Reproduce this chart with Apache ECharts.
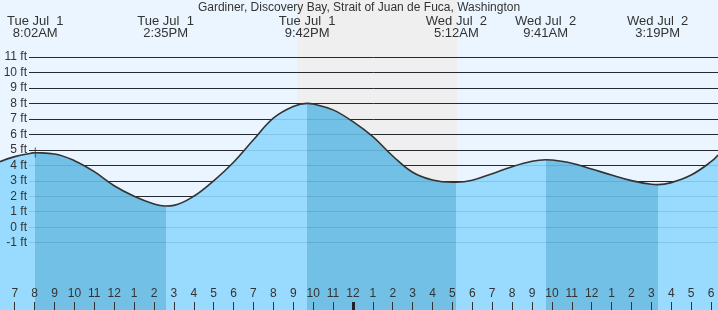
<!DOCTYPE html>
<html><head><meta charset="utf-8">
<script src="https://cdn.jsdelivr.net/npm/echarts@6/dist/echarts.min.js"></script>
<style>html,body{margin:0;padding:0;background:#eaf5ff}#c{width:718px;height:310px}</style>
</head><body><div id="c"></div>
<script>
const chartTitle = 'Gardiner, Discovery Bay, Strait of Juan de Fuca, Washington';
// hours since Jul 1 00:00
const tideHours = [6.26, 7, 8, 8.033, 9, 10, 11, 12, 13, 14, 14.583, 15, 16, 17, 18, 19, 20, 21, 21.7, 22, 23, 24, 25, 26, 27, 28, 29, 29.2, 30, 31, 32, 33, 33.683, 34, 35, 36, 37, 38, 39, 39.317, 40, 41, 42, 42.35];
const tideFeet  = [4.23, 4.56, 4.81, 4.82, 4.73, 4.30, 3.59, 2.68, 2.0, 1.50, 1.37, 1.41, 2.0, 3.0, 4.2, 5.65, 7.05, 7.8, 8.0, 7.96, 7.58, 6.82, 5.85, 4.6, 3.55, 3.05, 2.9, 2.9, 3.03, 3.46, 3.91, 4.26, 4.36, 4.34, 4.13, 3.76, 3.37, 3.01, 2.77, 2.75, 2.88, 3.37, 4.23, 4.67];
const extremeHours  = [8.033, 14.583, 21.7, 29.2, 33.683, 39.317];
const extremeLabels = ['Tue Jul  1\n8:02AM', 'Tue Jul  1\n2:35PM', 'Tue Jul  1\n9:42PM', 'Wed Jul  2\n5:12AM', 'Wed Jul  2\n9:41AM', 'Wed Jul  2\n3:19PM'];
const ebbRanges  = [[8.033, 14.583], [21.7, 29.2], [33.683, 39.317]];
const nightRange = [21.19, 29.23];
const hourTicks = [];
for (let h = 7; h <= 42; h++) hourTicks.push(h);
const midnightTicks = [24];
const ftTicks = [11, 10, 9, 8, 7, 6, 5, 4, 3, 2, 1, 0, -1];
const currentPoint = [8.033, 4.82];
const xRange = [6.26, 42.35];
const yRange = [-5.35, 14.68];

const FONT = 'Liberation Sans, Arial, sans-serif';
const TXT = '#333';
const LIGHT = '#98dbfe';
const DARK = '#72c0e5';

const tideData = tideHours.map((h, i) => [h, tideFeet[i]]);
const chart = echarts.init(document.getElementById('c'), null, {renderer: 'canvas'});
const lineMarks = ftTicks.map(v => ({yAxis: v}));

chart.setOption({
  animation: false,
  backgroundColor: '#eaf5ff',
  title: {text: chartTitle, left: 'center', top: 2, padding: 0, z: 10,
    textStyle: {fontFamily: FONT, fontSize: 12, fontWeight: 'normal', color: TXT}},
  grid: [
    {left: 0, right: 0, top: 0, bottom: 0},
    {left: 29, right: 0, top: 0, bottom: 0},
    {left: 0, right: 0, top: 0, bottom: 0}
  ],
  xAxis: [
    {gridIndex: 0, type: 'value', min: xRange[0], max: xRange[1], position: 'bottom', z: 10,
      axisLine: {show: false, onZero: false}, splitLine: {show: false},
      axisTick: {show: true, inside: true, length: 8, customValues: hourTicks, lineStyle: {color: TXT, width: 1}},
      axisLabel: {show: true, inside: true, margin: 10, customValues: hourTicks,
        formatter: h => String((h % 12) || 12), fontFamily: FONT, fontSize: 12, color: TXT}},
    {gridIndex: 0, type: 'value', min: xRange[0], max: xRange[1], position: 'top', z: 10,
      axisLine: {show: false, onZero: false}, splitLine: {show: false}, axisTick: {show: false},
      axisLabel: {show: true, inside: true, margin: 15, customValues: extremeHours,
        formatter: v => extremeLabels[extremeHours.indexOf(v)],
        fontFamily: FONT, fontSize: 13, lineHeight: 12, color: TXT, align: 'center'}},
    {gridIndex: 1, type: 'value', min: 0, max: 1, show: false},
    {gridIndex: 2, type: 'value', min: xRange[0], max: xRange[1], position: 'bottom', z: 10,
      axisLine: {show: false, onZero: false}, splitLine: {show: false}, axisLabel: {show: false},
      axisTick: {show: true, inside: true, length: 8, customValues: midnightTicks, lineStyle: {color: '#222', width: 3}}}
  ],
  yAxis: [
    {gridIndex: 0, type: 'value', min: yRange[0], max: yRange[1], show: false},
    {gridIndex: 1, type: 'value', min: yRange[0], max: yRange[1], show: false},
    {gridIndex: 2, type: 'value', min: yRange[0], max: yRange[1], show: false}
  ],
  visualMap: {
    type: 'piecewise', show: false, dimension: 0, seriesIndex: 0,
    pieces: ebbRanges.map(r => ({gte: r[0], lte: r[1], color: DARK})),
    outOfRange: {color: LIGHT}
  },
  series: [
    {type: 'line', xAxisIndex: 0, yAxisIndex: 0, data: tideData, smooth: 0.4,
      showSymbol: false, lineStyle: {width: 0}, areaStyle: {opacity: 1, origin: 'start'}, z: 2, silent: true},
    {type: 'line', xAxisIndex: 0, yAxisIndex: 0, data: tideData, smooth: 0.4,
      showSymbol: false, lineStyle: {width: 1.6, color: '#333'}, itemStyle: {color: '#333'}, z: 4, silent: true},
    {type: 'line', xAxisIndex: 0, yAxisIndex: 0, data: [], z: 0, silent: true,
      markArea: {silent: true, z: 0, itemStyle: {color: '#efefef'},
        data: [[{xAxis: nightRange[0]}, {xAxis: nightRange[1]}]]}},
    {type: 'line', xAxisIndex: 2, yAxisIndex: 1, data: [], z: 1, silent: true,
      markLine: {silent: true, z: 1, symbol: ['none', 'none'], label: {show: false},
        lineStyle: {type: 'solid', color: '#2a2a2a', width: 1}, data: lineMarks}},
    {type: 'line', xAxisIndex: 2, yAxisIndex: 1, data: [], z: 3, silent: true,
      markLine: {silent: true, z: 3, symbol: ['none', 'none'],
        label: {show: true, position: 'start', distance: 2, formatter: p => p.value + ' ft',
          fontFamily: FONT, fontSize: 12, color: TXT},
        lineStyle: {type: 'solid', color: 'rgba(0,50,90,0.13)', width: 1}, data: lineMarks}},
    {type: 'scatter', xAxisIndex: 0, yAxisIndex: 0, data: [currentPoint], z: 5, silent: true,
      symbol: 'path://M0,4.5h8v1h-8z M3.5,0h1v10h-1z', symbolSize: [8, 10],
      itemStyle: {color: '#333'}}
  ]
});
</script></body></html>
